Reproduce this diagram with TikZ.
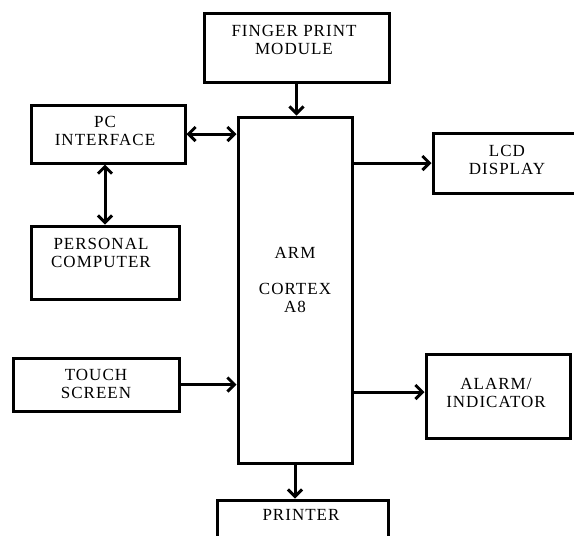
\documentclass[tikz,border=0pt]{standalone}
\usepackage{fontspec}
\setmainfont[LetterSpace=6]{Liberation Serif}
\usetikzlibrary{arrows.meta}

\tikzset{
    blk/.style={draw, line width=3pt, inner sep=0pt},
    lbl/.style={align=center, inner sep=0pt, font=\fontsize{17}{18}\selectfont},
    barb/.tip={Straight Barb[length=7pt, width=14pt]},
    arr/.style={line width=3pt, -barb},
    dblarr/.style={line width=3pt, barb-barb}
}

\begin{document}
\begin{tikzpicture}[x=1pt, y=-1pt]
    \useasboundingbox (0,0) rectangle (574,536);
    % blocks
    \node[blk, minimum width=185pt, minimum height=69pt] (fp) at (296.5, 47.5) {};
    \node[blk, minimum width=114pt, minimum height=346pt] (arm) at (295, 290) {};
    \node[blk, minimum width=154pt, minimum height=58pt] (pc) at (108, 134) {};
    \node[blk, minimum width=148pt, minimum height=73pt] (pers) at (105, 262.5) {};
    \node[blk, minimum width=166pt, minimum height=53pt] (touch) at (96, 384.5) {};
    \node[blk, minimum width=147pt, minimum height=60pt] (lcd) at (506.5, 163) {};
    \node[blk, minimum width=144pt, minimum height=84pt] (alarm) at (498, 396) {};
    \node[blk, minimum width=171pt, minimum height=60pt] (prn) at (302.5, 530) {};
    % labels
    \node[lbl] (fp-t) at (294, 39.5) {FINGER PRINT\\MODULE};
    \node[lbl] (arm-t) at (295, 280) {ARM\\[18pt]CORTEX\\A8};
    \node[lbl] (pc-t) at (105, 131) {PC\\INTERFACE};
    \node[lbl] (pers-t) at (101, 253) {PERSONAL\\COMPUTER};
    \node[lbl] (touch-t) at (96, 384) {TOUCH\\SCREEN};
    \node[lbl] (lcd-t) at (507, 160) {LCD\\DISPLAY};
    \node[lbl] (alarm-t) at (496, 392.5) {ALARM/\\INDICATOR};
    \node[lbl] (prn-t) at (301, 515) {PRINTER};
    % links
    \draw[arr] (fp.south) -- (fp.south |- arm.north);
    \draw[dblarr] (pc.east) -- (pc.east -| arm.west);
    \draw[dblarr] (pc.south -| pers.north) -- (pers.north);
    \draw[arr] (arm.east |- lcd.west) -- (lcd.west);
    \draw[arr] (touch.east) -- (touch.east -| arm.west);
    \draw[arr] ([yshift=4pt]alarm.west -| arm.east) -- ([yshift=4pt]alarm.west);
    \draw[arr] (arm.south) -- (arm.south |- prn.north);
\end{tikzpicture}
\end{document}
